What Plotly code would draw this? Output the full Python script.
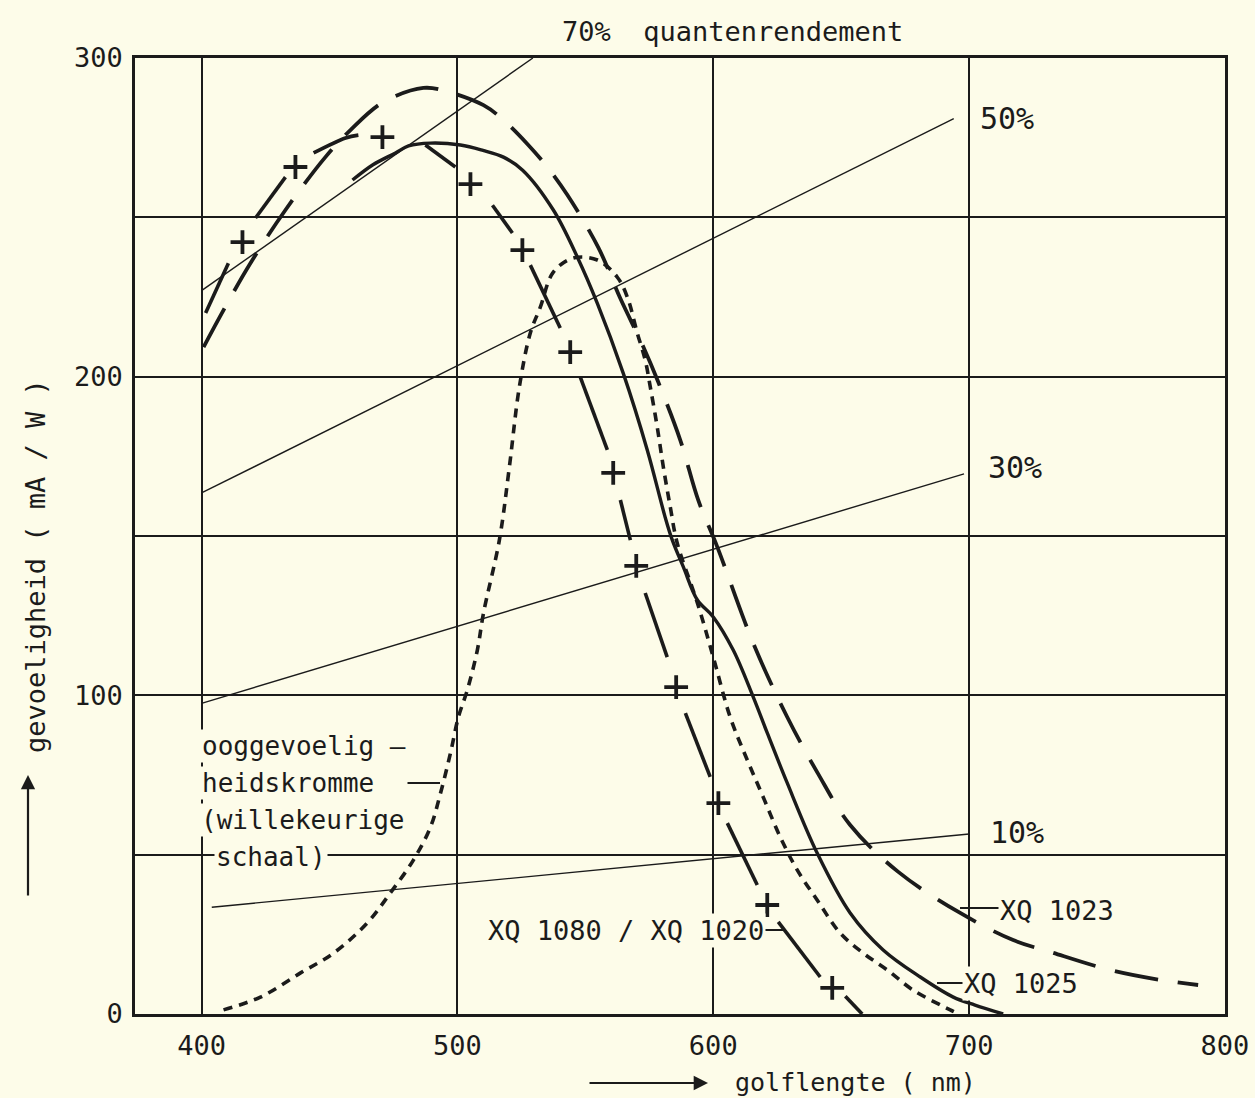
import plotly.graph_objects as go

# ---------------- data ----------------
x_tick_vals = [400, 500, 600, 700, 800]
x_tick_text = ["400", "500", "600", "700", "800"]
y_grid_vals = [0, 50, 100, 150, 200, 250, 300]
y_tick_text = ["0", "", "100", "", "200", "", "300"]

# quantum-efficiency reference lines (end points)
qe70_nm = [400, 529.5]
qe70_val = [227, 300]
qe50_nm = [400, 694]
qe50_val = [163.5, 281]
qe30_nm = [400, 698]
qe30_val = [97.5, 169.5]
qe10_nm = [404, 700]
qe10_val = [33.5, 56.5]

# XQ 1023 (long dashes)
xq1023_nm = [400.8, 408.6, 419.1, 432.8, 448.4, 458.2, 471.1, 486.7, 494.1, 510.2,
             518.0, 527.7, 535.5, 543.0, 555.1, 563.7, 572.7, 578.5, 587.1, 594.1,
             601.6, 615.6, 628.9, 640.6, 653.5, 672.3, 696.5, 717.2, 731.6, 755.1,
             774.6, 789.5]
xq1023_val = [209.3, 220.9, 235.6, 252.3, 268.9, 277.4, 286.2, 290.6, 289.9, 285.2,
              280.5, 272.7, 265.4, 257.0, 240.5, 224.5, 209.3, 198.3, 180.1, 161.3,
              146.5, 116.4, 93.2, 75.9, 59.3, 44.6, 31.7, 23.2, 19.5, 13.8,
              10.7, 9.1]

# XQ 1025 (solid)
xq1025_nm = [459.0, 467.0, 475.8, 480.9, 489.5, 501.2, 510.0, 518.0, 525.5, 537.5,
             546.9, 554.7, 564.8, 574.2, 581.2, 584.0, 588.3, 593.8, 600.0, 607.8,
             615.6, 621.1, 628.9, 640.6, 653.5, 666.4, 680.9, 693.8, 702.3, 713.3]
xq1025_val = [261.7, 266.5, 270.2, 272.4, 273.3, 272.7, 271.0, 268.9, 264.8, 252.3,
              237.5, 223.0, 201.1, 177.0, 155.9, 148.7, 140.3, 129.9, 124.6, 114.2,
              99.5, 88.2, 72.5, 50.5, 31.7, 20.1, 11.6, 5.3, 2.8, 0.0]

# XQ 1080 / XQ 1020 (dash segments between the plus marks)
xq1080_nm = [401.6, 410.5, None, 421.1, 432.8, None, 443.8, 456.3, 461.3, None,
             487.5, 499.2, None, 513.7, 521.5, None, 528.5, 540.2, None,
             548.0, 558.6, None, 563.7, 567.6, None, 573.4, 582.0, None,
             589.1, 598.8, None, 605.5, 617.2, None, 625.4, 641.8, None, 651.6, 658.2]
xq1080_val = [220.0, 235.6, None, 249.8, 262.6, None, 270.2, 274.9, 275.8, None,
              272.7, 265.8, None, 253.8, 245.1, None, 235.0, 215.3, None,
              199.9, 177.0, None, 161.3, 148.7, None, 132.1, 112.0, None,
              94.4, 74.4, None, 59.9, 40.5, None, 28.9, 11.6, None, 5.6, 0.0]
xq1080_plus_nm = [416.0, 436.7, 470.7, 505.1, 525.4, 544.1, 560.9, 569.9, 585.5,
                  602.0, 621.1, 646.5]
xq1080_plus_val = [242.2, 265.8, 275.2, 260.4, 239.7, 207.7, 169.8, 140.6, 102.6,
                   66.2, 34.2, 8.2]

# eye sensitivity curve (short dashes, arbitrary scale)
eye_nm = [408.6, 423.0, 438.7, 451.6, 464.8, 473.8, 482.8, 489.5, 493.4, 497.3,
          500.4, 503.9, 507.8, 510.2, 516.4, 520.3, 524.2, 528.5, 532.4, 537.5,
          545.3, 554.7, 562.5, 566.4, 570.3, 573.4, 575.4, 578.1, 580.5, 583.2,
          585.9, 593.8, 600.0, 606.6, 613.3, 619.5, 626.2, 632.8, 640.6, 649.6,
          658.6, 668.0, 678.1, 692.6, 696.0]
eye_val = [1.3, 5.3, 12.9, 19.1, 28.6, 38.0, 48.3, 58.7, 69.3, 81.9,
           93.2, 101.7, 114.2, 125.8, 148.7, 171.6, 196.7, 213.7, 221.8, 232.8,
           237.2, 236.6, 231.2, 225.0, 213.7, 205.2, 196.7, 184.2, 171.6, 159.1,
           147.8, 129.0, 112.0, 93.2, 79.7, 68.1, 55.5, 45.2, 35.8, 25.4,
           19.1, 13.8, 7.5, 1.3, 0.0]

# ---------------- styling ----------------
BG = "#fdfce9"
INK = "#1b1b1b"
FONT = "DejaVu Sans Mono"

fig = go.Figure()

for xs, ys in [(qe70_nm, qe70_val), (qe50_nm, qe50_val),
               (qe30_nm, qe30_val), (qe10_nm, qe10_val)]:
    fig.add_trace(go.Scatter(x=xs, y=ys, mode="lines",
                             line=dict(color=INK, width=1.4),
                             hoverinfo="skip", showlegend=False))

fig.add_trace(go.Scatter(x=eye_nm, y=eye_val, mode="lines",
                         line=dict(color=INK, width=3.6, dash="9px,7px",
                                   shape="spline", smoothing=1.0),
                         showlegend=False))
fig.add_trace(go.Scatter(x=xq1023_nm, y=xq1023_val, mode="lines",
                         line=dict(color=INK, width=3.8, dash="44px,20px",
                                   shape="spline", smoothing=1.0),
                         showlegend=False))
fig.add_trace(go.Scatter(x=xq1025_nm, y=xq1025_val, mode="lines",
                         line=dict(color=INK, width=3.4,
                                   shape="spline", smoothing=1.0),
                         showlegend=False))
fig.add_trace(go.Scatter(x=xq1080_nm, y=xq1080_val, mode="lines",
                         connectgaps=False,
                         line=dict(color=INK, width=3.6,
                                   shape="spline", smoothing=1.0),
                         showlegend=False))
fig.add_trace(go.Scatter(x=xq1080_plus_nm, y=xq1080_plus_val, mode="markers",
                         marker=dict(symbol="cross-thin", size=17,
                                     line=dict(color=INK, width=3.8)),
                         showlegend=False))

# ---------------- layout ----------------
L, T, PW, PH = 135, 58, 1090, 956


def P(xp, yp):
    return (xp - L) / PW, (T + PH - yp) / PH


ann = []


def text(s, xp, yp, size=26, xanchor="left", bg=True, angle=0):
    x, y = P(xp, yp)
    ann.append(dict(text=s, x=x, y=y, xref="paper", yref="paper",
                    xanchor=xanchor, yanchor="middle", showarrow=False,
                    textangle=angle,
                    font=dict(family=FONT, size=size, color=INK),
                    bgcolor=BG if bg else None, borderpad=1))


def leader(hx, hy, ax, ay=0, head=0, width=2.0, size=1.0):
    x, y = P(hx, hy)
    ann.append(dict(text="", x=x, y=y, xref="paper", yref="paper",
                    ax=ax, ay=ay, axref="pixel", ayref="pixel",
                    showarrow=True, arrowhead=head, arrowsize=size,
                    arrowwidth=width, arrowcolor=INK, standoff=0,
                    startstandoff=0))


text("70%\u00a0 quantenrendement", 732, 31, size=27, xanchor="center")
text("50%", 978, 119, size=30)
text("30%", 986, 467, size=30)
text("10%", 988, 832, size=30)

text("ooggevoelig –", 200, 746, size=26)
text("heidskromme", 200, 783, size=26)
text("(willekeurige", 199, 820, size=26)
text("schaal)", 214, 857, size=26)
leader(440, 783, -34)

text("XQ 1080 / XQ 1020", 766, 930, size=27, xanchor="right")
leader(786, 930, -22)
text("XQ 1023", 998, 910, size=27)
leader(960, 908, 40)
text("XQ 1025", 962, 983, size=27)
leader(937, 983, 27)

# axis titles with arrows
text("gevoeligheid ( mA / W )", 35, 566, size=27, xanchor="center",
     bg=False, angle=-90)
leader(28, 775, 0, 122, head=2, width=2.2, size=1.3)
text("golflengte ( nm)", 855, 1082, size=25, xanchor="center", bg=False)
leader(708, 1083, -120, 0, head=2, width=2.2, size=1.3)

fig.update_layout(
    width=1255, height=1098, autosize=False,
    margin=dict(l=L, r=1255 - L - PW, t=T, b=1098 - T - PH),
    paper_bgcolor=BG, plot_bgcolor=BG, showlegend=False,
    font=dict(family=FONT, color=INK, size=26),
    annotations=ann,
)
fig.update_xaxes(range=[374, 800], tickvals=x_tick_vals, ticktext=x_tick_text,
                 automargin=False,
                 showgrid=True, gridcolor=INK, gridwidth=1.6,
                 showline=True, mirror=True, linecolor=INK, linewidth=2.6,
                 zeroline=False, ticks="", tickfont=dict(size=27, family=FONT),
                 ticklabelstandoff=6)
fig.update_yaxes(range=[0, 300], tickvals=y_grid_vals, ticktext=y_tick_text,
                 automargin=False,
                 showgrid=True, gridcolor=INK, gridwidth=1.6,
                 showline=True, mirror=True, linecolor=INK, linewidth=2.6,
                 zeroline=False, ticks="", tickfont=dict(size=27, family=FONT),
                 ticklabelstandoff=4)

fig.write_html("out.html")
